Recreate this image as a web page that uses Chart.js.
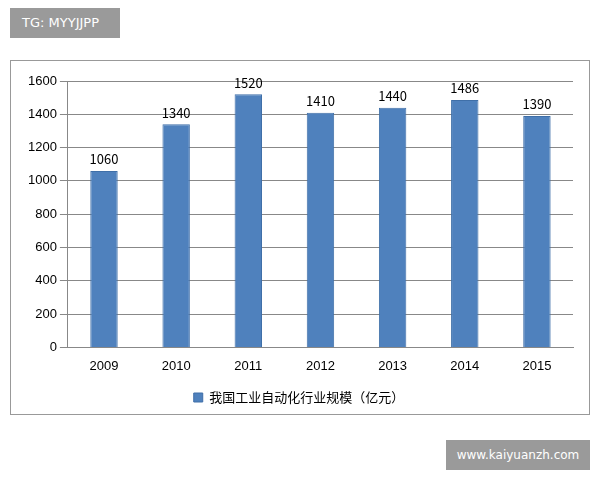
<!DOCTYPE html>
<html><head><meta charset="utf-8">
<script src="https://cdn.jsdelivr.net/npm/chart.js@4"></script>
<style>
body{margin:0;width:600px;height:480px;background:#fff;position:relative;font-family:"Noto Sans CJK SC",sans-serif;overflow:hidden}
#tg{position:absolute;left:10px;top:8px;width:110px;height:30px;background:#9a9a9a;color:#fff;font:13px "DejaVu Sans",sans-serif;line-height:30px;padding-left:12px;box-sizing:border-box}
#wm{position:absolute;left:446px;top:440px;width:144px;height:30px;background:#9a9a9a;color:#fff;font:12px "DejaVu Sans",sans-serif;line-height:30px;text-align:center}
#box{position:absolute;left:10px;top:60px;width:580px;height:355px;border:1px solid #999;box-sizing:border-box}
</style></head><body>
<div id="tg">TG: MYYJJPP</div>
<div id="box"><canvas id="c" width="578" height="353"></canvas></div>
<div id="wm">www.kaiyuanzh.com</div>
<script>
const years=["2009","2010","2011","2012","2013","2014","2015"];
const values=[1060,1340,1520,1410,1440,1486,1390];
const seriesName="我国工业自动化行业规模（亿元）";
const labelPlugin={id:'lbl',afterDatasetsDraw(ch){const ctx=ch.ctx;ctx.save();ctx.font='13px "Noto Sans CJK SC",sans-serif';ctx.fillStyle='#000';ctx.textAlign='center';ctx.textBaseline='bottom';
ch.getDatasetMeta(0).data.forEach((b,i)=>ctx.fillText(values[i],b.x,b.y-5));ctx.restore();}};
new Chart(document.getElementById('c'),{type:'bar',data:{labels:years,datasets:[{label:seriesName,data:values,backgroundColor:'#4f81bd',borderColor:'#3f6fa8',borderWidth:1,barPercentage:0.38,categoryPercentage:1}]},
options:{responsive:false,animation:false,layout:{padding:{top:20,right:16,left:14,bottom:0}},
plugins:{legend:{position:'bottom',labels:{boxWidth:9,boxHeight:9,padding:14,color:'#000',font:{size:13,family:'"Noto Sans CJK SC"'}}},tooltip:{enabled:false}},
scales:{y:{min:0,max:1600,ticks:{stepSize:200,color:'#000',font:{size:13},callback:v=>String(v)},grid:{color:'#888',drawTicks:true},border:{color:'#888'}},
x:{ticks:{color:'#000',font:{size:13}},grid:{display:false},border:{color:'#888'}}}},plugins:[labelPlugin]});
</script></body></html>
